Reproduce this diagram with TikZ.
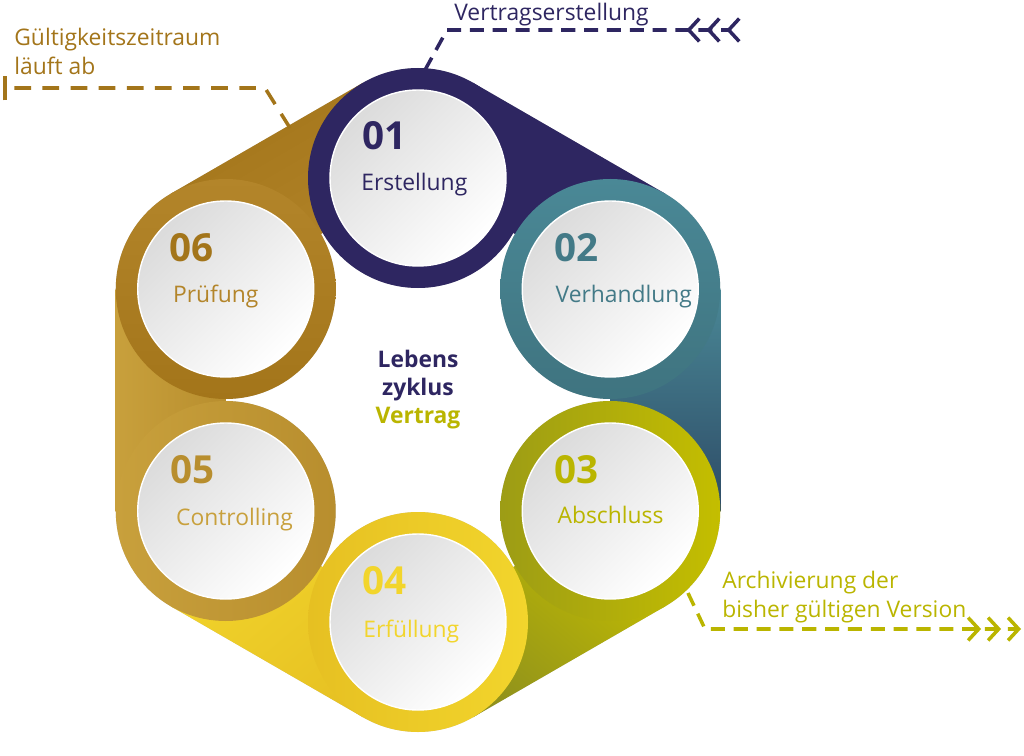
\documentclass[tikz,border=0pt]{standalone}
\usepackage{fontspec}
\setmainfont{Open Sans}
\usetikzlibrary{calc, arrows.meta}

\definecolor{lilac}{HTML}{2E2661}
\definecolor{teal1}{HTML}{4A8896}
\definecolor{teal2}{HTML}{2D4B66}
\definecolor{olive1}{HTML}{C4BE00}
\definecolor{olive2}{HTML}{8C8E1E}
\definecolor{sun1}{HTML}{F2D52C}
\definecolor{sun2}{HTML}{E6C022}
\definecolor{gold1}{HTML}{C8A03C}
\definecolor{gold2}{HTML}{B88E2E}
\definecolor{ochre1}{HTML}{B3852A}
\definecolor{ochre2}{HTML}{A3751A}

\begin{document}
\begin{tikzpicture}[x=0.02cm, y=0.02cm,
  face/.style={shading=axis, top color=black!14, bottom color=white, shading angle=45, draw=white, line width=0.8pt},
  num/.style={anchor=base west, inner sep=0pt, font=\fontsize{22}{22}\selectfont\bfseries},
  lbl/.style={anchor=base west, inner sep=0pt, font=\fontsize{13}{16}\selectfont},
  mid/.style={anchor=base, inner sep=0pt, font=\fontsize{13}{16}\selectfont\bfseries},
  note/.style={inner sep=0pt, align=left, font=\fontsize{13}{16.5}\selectfont},
  lead/.style={line width=2pt, dash pattern=on 8pt off 5pt},
  chev/.style={-{Straight Barb[length=6pt,width=13pt,sep=3pt]Straight Barb[length=6pt,width=13pt,sep=3pt]Straight Barb[length=6pt,width=13pt]}},
  chevback/.style={-{Straight Barb[reversed,length=6pt,width=13pt,sep=3pt]Straight Barb[reversed,length=6pt,width=13pt,sep=3pt]Straight Barb[reversed,length=6pt,width=13pt]}}]
\useasboundingbox (0,0) rectangle (1024,755);

% centres of the six steps on a hexagon
\coordinate (O) at (418,355);
\coordinate (c1) at ($(O)+(90:222)$);
\coordinate (c2) at ($(O)+(30:222)$);
\coordinate (c3) at ($(O)+(-30:222)$);
\coordinate (c4) at ($(O)+(-90:222)$);
\coordinate (c5) at ($(O)+(-150:222)$);
\coordinate (c6) at ($(O)+(150:222)$);

% soft shadow under the whole band
\foreach \d/\o in {22/0.035, 16/0.045, 10/0.055, 5/0.06} {
  \begin{scope}[shift={(0.6*\d,-\d)}, transparency group, opacity=\o]
    \foreach \i/\j/\b in {1/2/60, 2/3/0, 3/4/-60, 4/5/-120, 5/6/180, 6/1/120} {
      \fill[black] (c\i) circle (110);
      \fill[black] (c\i) -- ($(c\i)+(\b:110)$) -- ($(c\j)+(\b:110)$) -- (c\j) -- cycle;
    }
  \end{scope}
}

% outer bands, each one running on to the next step
\fill[lilac] (c1) -- ($(c1)+(60:110)$) -- ($(c2)+(60:110)$) -- (c2) -- cycle;
\shade[top color=teal1, bottom color=teal2] (c2) -- ($(c2)+(0:110)$) -- ($(c3)+(0:110)$) -- (c3) -- cycle;
\shade[top color=olive1, bottom color=olive2, shading angle=-40] (c3) -- ($(c3)+(-60:110)$) -- ($(c4)+(-60:110)$) -- (c4) -- cycle;
\shade[top color=sun1, bottom color=sun2, shading angle=40] (c4) -- ($(c4)+(-120:110)$) -- ($(c5)+(-120:110)$) -- (c5) -- cycle;
\shade[left color=gold1, right color=gold2] (c5) -- ($(c5)+(180:110)$) -- ($(c6)+(180:110)$) -- (c6) -- cycle;
\shade[top color=ochre2, bottom color=ochre1, shading angle=30] (c6) -- ($(c6)+(120:110)$) -- ($(c1)+(120:110)$) -- (c1) -- cycle;

% rings
\fill[lilac] (c1) circle (110);
\shade[top color=teal1, bottom color=teal1!85!black] (c2) circle (110);
\shade[left color=olive2!70!olive1, right color=olive1] (c3) circle (110);
\shade[left color=sun2, right color=sun1] (c4) circle (110);
\shade[left color=gold1, right color=gold2] (c5) circle (110);
\shade[top color=ochre1, bottom color=ochre2] (c6) circle (110);

% white faces
\shade[face] (c1) circle (88);
\shade[face] (c2) circle (88);
\shade[face] (c3) circle (88);
\shade[face] (c4) circle (88);
\shade[face] (c5) circle (88);
\shade[face] (c6) circle (88);

% numbers and step names
\node[num, text=lilac] (n1) at ($(c1)+(-56,28)$) {01};
\node[lbl, text=lilac] (l1) at ($(c1)+(-57,-13)$) {Erstellung};
\node[num, text=teal1!90!black] (n2) at ($(c2)+(-56,28)$) {02};
\node[lbl, text=teal1!90!black] (l2) at ($(c2)+(-55,-13)$) {Verhandlung};
\node[num, text=olive1!95!black] (n3) at ($(c3)+(-56,28)$) {03};
\node[lbl, text=olive1!95!black] (l3) at ($(c3)+(-53,-12)$) {Abschluss};
\node[num, text=sun1] (n4) at ($(c4)+(-56,28)$) {04};
\node[lbl, text=sun1] (l4) at ($(c4)+(-55,-15)$) {Erfüllung};
\node[num, text=gold2] (n5) at ($(c5)+(-56,28)$) {05};
\node[lbl, text=gold1] (l5) at ($(c5)+(-50,-14)$) {Controlling};
\node[num, text=ochre2] (n6) at ($(c6)+(-57,28)$) {06};
\node[lbl, text=ochre1] (l6) at ($(c6)+(-53,-13)$) {Prüfung};

% centre title
\node[mid, text=lilac] (t1) at (418,388) {Lebens};
\node[mid, text=lilac] (t2) at (418,360) {zyklus};
\node[mid, text=olive1!95!black] (t3) at (418,332) {Vertrag};

% Top: start of the contract
\node[note, anchor=base west, text=lilac] (vt) at (454,734) {Vertragserstellung};
\coordinate (v0) at (425,685);
\coordinate (v1) at (447,725);
\coordinate (v2) at (741,725);
\draw[lead, lilac, chevback] (v0) -- (v1) -- (v2);

% Left: validity runs out
\node[note, anchor=north west, text=ochre2] (gt) at (14,727) {Gültigkeitszeitraum\\läuft ab};
\coordinate (g0) at (290,627);
\coordinate (g1) at (265,667);
\coordinate (g2) at (3,667);
\draw[lead, dash pattern=on 9.5pt off 6.5pt, ochre2, -{Bar[width=14pt]}] (g0) -- (g1) -- (g2);

% Right: archiving the old version
\node[note, anchor=north west, text=olive1!95!black] (at) at (722,184) {Archivierung der\\bisher gültigen Version};
\coordinate (a0) at (688,162);
\coordinate (a1) at (705,126);
\coordinate (a2) at (1021,126);
\draw[lead, olive1!95!black, chev] (a0) -- (a1) -- (a2);
\end{tikzpicture}
\end{document}
